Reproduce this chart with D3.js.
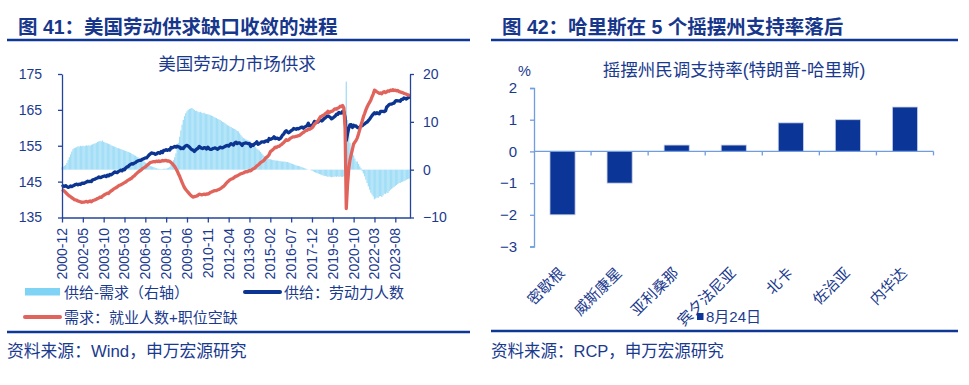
<!DOCTYPE html>
<html><head><meta charset="utf-8">
<script src="https://cdn.jsdelivr.net/npm/d3@7"></script>
<style>
body{margin:0;background:#fff;}
svg text{font-family:"Liberation Sans","Noto Sans CJK SC",sans-serif;}
</style></head><body>
<svg id="c" width="969" height="385"></svg>
<script>
// ---------- Data: Figure 41 (monthly, 2000-12 .. 2024-08) ----------
const firstMonth = new Date(2000, 11, 1);
const lastMonth = new Date(2024, 7, 1);
const xTickLabels = ["2000-12","2002-05","2003-10","2005-03","2006-08","2008-01","2009-06","2010-11","2012-04","2013-09","2015-02","2016-07","2017-12","2019-05","2020-10","2022-03","2023-08"];
const leftTicks = [135,145,155,165,175];
const rightTicks = [-10,0,10,20];

// 供给：劳动力人数 (百万, left axis)
const laborForce = [143.5,
143.8,143.7,143.9,143.6,143.4,143.5,143.8,143.6,143.8,144.0,144.2,144.3,
144.1,144.3,144.2,144.5,144.6,144.5,144.7,144.9,145.1,145.0,145.1,145.0,
145.5,145.6,145.7,145.9,146.0,146.3,146.1,146.2,146.4,146.5,146.6,146.4,
146.8,146.6,147.0,146.9,147.1,147.4,147.7,147.6,147.5,147.8,148.0,148.2,
148.0,148.4,148.3,148.8,149.1,149.2,149.6,149.8,150.0,149.9,150.2,150.3,
150.6,150.8,150.9,150.9,151.1,151.3,151.4,151.6,151.6,152.0,152.4,152.7,
153.0,152.9,152.9,152.6,152.7,153.0,153.1,152.9,153.4,153.1,153.7,153.7,
153.9,153.7,153.9,153.8,154.5,154.4,154.6,154.8,154.6,154.9,154.7,154.6,
154.2,154.4,154.2,154.7,155.0,155.1,154.9,154.6,154.2,153.9,153.8,153.4,
153.8,154.1,154.3,154.8,154.5,154.3,154.2,154.5,154.4,154.1,154.6,154.2,
154.0,154.0,154.2,154.3,154.4,154.2,154.0,154.3,154.6,154.5,154.4,154.6,
154.8,155.0,155.1,154.9,155.3,155.6,155.4,155.2,155.8,156.0,155.6,155.8,
155.8,155.5,155.1,155.6,155.7,155.8,155.7,155.6,155.6,154.8,155.3,155.1,
155.5,155.7,156.1,155.4,155.6,155.8,156.1,156.1,156.0,156.3,156.4,156.2,
157.0,156.8,156.9,157.1,157.5,157.0,157.1,157.1,156.8,157.0,157.4,158.0,
158.3,158.9,159.2,158.8,158.6,158.9,159.2,159.4,159.8,159.7,159.6,159.8,
159.7,159.9,160.1,160.2,159.9,160.2,160.4,160.6,161.3,160.6,160.6,160.6,
161.1,161.8,161.6,161.6,161.6,162.1,162.2,161.9,162.2,162.6,162.8,163.2,
163.3,163.1,162.9,162.5,162.7,163.0,163.3,163.8,163.7,164.3,164.1,164.1,
164.6,164.5,162.9,156.5,158.2,159.9,160.8,160.9,160.1,160.7,160.5,160.5,
160.1,160.0,160.2,160.5,160.6,160.9,161.1,161.4,161.6,162.0,162.4,162.9,
163.4,163.8,164.2,163.9,164.2,164.0,163.9,164.6,164.6,164.6,164.5,164.7,
165.8,166.1,166.5,166.6,166.6,166.8,166.9,167.4,167.6,167.5,167.5,167.4,
167.9,167.9,168.3,168.2,168.0,168.3,168.5,168.6];

// 需求：就业人数+职位空缺 (百万, left axis)
const demand = [142.8,
142.6,142.3,142.0,141.6,141.3,141.0,140.8,140.5,140.3,140.0,139.9,139.8,
139.6,139.5,139.4,139.2,139.3,139.3,139.4,139.5,139.3,139.5,139.6,139.4,
139.7,139.8,139.9,140.1,140.3,140.4,140.7,140.6,140.9,141.2,141.4,141.6,
141.8,141.7,142.1,142.4,142.6,142.9,143.1,143.3,143.5,143.8,144.0,144.1,
144.3,144.5,144.7,144.9,145.2,145.4,145.6,145.8,146.0,146.4,146.6,147.0,
147.3,147.6,147.9,148.1,148.4,148.7,148.9,149.1,149.4,149.7,150.0,150.3,
150.4,150.5,150.6,150.5,150.7,150.6,150.8,150.6,150.7,150.9,150.8,150.9,
150.9,150.7,150.8,150.6,150.3,150.0,149.6,149.2,148.6,148.0,147.2,146.5,
145.6,144.8,144.0,143.3,142.8,142.4,142.0,141.6,141.2,140.9,140.7,140.8,
140.9,141.0,141.2,141.5,141.4,141.3,141.4,141.5,141.4,141.6,141.5,141.7,
142.0,142.1,142.3,142.4,142.5,142.5,142.7,142.8,143.0,143.2,143.5,143.7,
144.1,144.5,144.9,145.2,145.5,145.7,145.8,146.0,146.3,146.5,146.6,146.8,
147.0,147.2,147.3,147.4,147.6,147.8,147.7,147.9,148.1,148.0,148.3,148.6,
148.7,149.0,149.4,149.6,149.9,150.3,150.5,150.7,151.0,151.5,151.8,152.1,
152.5,153.3,153.6,153.9,154.2,154.6,154.5,154.8,154.8,155.1,155.3,155.6,
155.9,156.3,156.7,156.5,156.6,157.0,157.2,157.4,157.5,157.5,157.6,157.7,
157.8,157.9,158.2,158.5,158.7,159.0,159.2,159.3,159.7,159.6,159.8,160.0,
160.4,161.0,161.3,161.6,162.0,162.6,163.1,163.2,163.5,163.6,164.0,164.2,
164.6,164.2,164.5,164.6,164.7,165.1,165.3,165.2,165.5,165.6,166.0,165.9,
166.2,165.5,160.5,137.5,144.0,148.5,151.0,152.5,154.0,155.5,156.0,156.5,
157.2,158.3,159.5,160.7,161.9,163.1,164.0,165.0,165.8,166.5,167.1,167.7,
168.6,169.4,170.5,170.3,170.0,169.8,169.6,169.7,169.5,169.9,170.1,169.8,
170.0,170.3,170.2,170.5,170.4,170.6,170.4,170.5,170.3,170.4,170.1,170.0,
169.9,169.8,169.6,169.5,169.4,169.2,169.1,168.9];

// 供给-需求 (右轴)
const gap = [0.5,
0.6,0.8,1.0,1.4,2.0,2.6,3.2,3.8,4.3,4.5,4.6,4.7,
4.9,4.8,5.0,4.9,5.0,4.9,5.0,5.1,5.0,5.1,5.0,5.2,
5.3,5.4,5.5,5.6,5.8,5.9,6.0,5.9,6.1,5.8,5.7,5.6,
5.5,5.4,5.3,5.1,5.0,4.9,4.8,4.7,4.5,4.5,4.4,4.3,
4.2,4.1,4.0,3.9,3.8,3.7,3.6,3.5,3.3,3.2,3.0,2.9,
2.7,2.6,2.4,2.2,2.0,1.8,1.7,1.5,1.3,1.1,0.9,0.8,
0.7,0.6,0.5,0.4,0.3,0.2,0.2,0.1,0.1,0.1,0.2,0.2,
0.2,0.3,0.4,0.6,1.0,1.5,2.0,2.6,3.4,4.5,5.6,6.9,
8.2,9.4,10.4,11.2,11.8,12.2,12.5,12.7,12.8,12.9,12.7,12.5,
12.3,12.3,12.1,12.0,12.1,11.9,11.8,11.9,11.7,11.6,11.6,11.5,
11.4,11.3,11.2,11.0,10.9,10.8,10.6,10.5,10.4,10.2,10.0,9.9,
9.7,9.5,9.3,9.2,9.0,8.9,8.7,8.6,8.5,8.3,8.1,8.0,
7.6,7.2,6.9,6.6,6.5,6.3,6.2,6.1,6.0,5.9,5.6,5.3,
5.0,4.7,4.4,4.2,4.0,3.7,3.4,3.1,2.8,2.6,2.4,2.3,
2.2,2.2,2.1,2.0,2.0,1.9,1.9,1.9,1.8,1.8,1.7,1.7,
1.7,1.7,1.6,1.6,1.5,1.4,1.3,1.2,1.1,1.0,0.9,0.8,
0.8,0.7,0.6,0.5,0.4,0.3,0.2,0.1,0.0,0.0,-0.1,-0.2,
-0.3,-0.5,-0.6,-0.7,-0.8,-0.9,-1.0,-1.1,-1.2,-1.3,-1.3,-1.4,
-1.5,-1.4,-1.5,-1.6,-1.5,-1.5,-1.4,-1.5,-1.4,-1.5,-1.4,-1.5,
-1.5,-1.4,0.5,18.4,10.4,7.5,5.6,4.5,3.8,3.0,2.3,1.7,
1.7,1.2,0.7,0.3,-0.3,-0.8,-1.4,-2.1,-2.8,-3.5,-4.2,-4.8,
-5.2,-5.6,-6.2,-6.0,-5.8,-5.9,-5.6,-5.5,-5.7,-5.4,-5.0,-5.1,
-4.8,-4.9,-4.5,-4.2,-4.0,-3.8,-3.6,-3.4,-3.2,-3.0,-2.8,-2.8,
-2.6,-2.5,-2.4,-2.3,-2.1,-2.0,-1.9,-1.8];

// ---------- Data: Figure 42 ----------
const states = ["密歇根","威斯康星","亚利桑那","宾夕法尼亚","北卡","佐治亚","内华达"];
const margin824 = [-2, -1, 0.2, 0.2, 0.9, 1.0, 1.4];
const rightYTicks = [-3,-2,-1,0,1,2];

// ---------- Drawing ----------
const svg = d3.select("#c");
const NAVY = "#1a3a8e", RULE = "#0f3795";
const BLUE = "#0c3591", RED = "#e0645b", LIGHT = "#a3def7";

svg.append("rect").attr("width",969).attr("height",385).attr("fill","#fff");

function title(x, txt){
  svg.append("text").attr("x",x).attr("y",34).attr("font-size",19.5).attr("font-weight","bold")
    .attr("fill","#17378c").text(txt);
}
title(18, "图 41：美国劳动供求缺口收敛的进程");
title(502, "图 42：哈里斯在 5 个摇摆州支持率落后");
function rule(x1,x2,y){
  svg.append("line").attr("x1",x1).attr("x2",x2).attr("y1",y).attr("y2",y)
    .attr("stroke",RULE).attr("stroke-width",2.6);
}
rule(7,470,40); rule(491,958,40);
rule(7,470,332); rule(491,958,331);
svg.append("text").attr("x",7).attr("y",357).attr("font-size",16.8).attr("fill",NAVY).text("资料来源：Wind，申万宏源研究");
svg.append("text").attr("x",491).attr("y",357).attr("font-size",16.5).attr("fill",NAVY).text("资料来源：RCP，申万宏源研究");

// ---- Left chart ----
const fmt = d3.timeFormat("%Y-%m");
const months = d3.timeMonth.range(firstMonth, d3.timeMonth.offset(lastMonth,1)).map(fmt);
const x = d3.scalePoint().domain(months).range([62, 410]);
const yL = d3.scaleLinear().domain([135,175]).range([217.5,74]);
const yR = d3.scaleLinear().domain([-10,20]).range([217.5,74]);
const gL = svg.append("g");

gL.append("text").attr("x",237).attr("y",70).attr("text-anchor","middle")
  .attr("font-size",17.5).attr("fill",NAVY).text("美国劳动力市场供求");

const bw = x.step()*1.05;
gL.append("g").selectAll("rect").data(gap).join("rect")
  .attr("x",(d,i)=>x(months[i]) - bw/2)
  .attr("width",bw)
  .attr("y",d=>Math.min(yR(d),yR(0)))
  .attr("height",d=>Math.abs(yR(d)-yR(0)))
  .attr("fill",LIGHT);

const line = arr => d3.line().x((d,i)=>x(months[i])).y(d=>yL(d))(arr);
gL.append("path").attr("d",line(laborForce)).attr("fill","none").attr("stroke",BLUE)
  .attr("stroke-width",3.3).attr("stroke-linejoin","round");
gL.append("path").attr("d",line(demand)).attr("fill","none").attr("stroke",RED)
  .attr("stroke-width",3.3).attr("stroke-linejoin","round");

const axL = gL.append("g").attr("transform","translate(62,0)")
  .call(d3.axisLeft(yL).tickValues(leftTicks).tickSize(4).tickSizeOuter(0).tickPadding(16));
const axR = gL.append("g").attr("transform","translate(410,0)")
  .call(d3.axisRight(yR).tickValues(rightTicks).tickSize(4).tickSizeOuter(0).tickPadding(9));
const axB = gL.append("g").attr("transform","translate(0,217.5)")
  .call(d3.axisBottom(x).tickValues(xTickLabels).tickSize(5).tickSizeOuter(0).tickFormat(""));
[axL,axR,axB].forEach(a=>{
  a.selectAll("path,line").attr("stroke","#22449c").attr("stroke-width",1.3);
  a.selectAll("text").attr("font-size",14).attr("fill",NAVY).attr("font-family","Liberation Sans");
});
gL.append("g").selectAll("text").data(xTickLabels).join("text")
  .attr("transform",d=>`translate(${x(d)},228) rotate(-90)`)
  .attr("text-anchor","end").attr("dominant-baseline","central")
  .attr("font-size",14).attr("fill",NAVY).text(d=>d);

// legend
gL.append("rect").attr("x",25).attr("y",288).attr("width",35).attr("height",7.5).attr("fill","#7fd3f5");
gL.append("text").attr("x",64).attr("y",298).attr("font-size",15).attr("fill",NAVY).text("供给-需求（右轴）");
gL.append("line").attr("x1",245).attr("x2",280).attr("y1",292).attr("y2",292)
  .attr("stroke",BLUE).attr("stroke-width",4).attr("stroke-linecap","round");
gL.append("text").attr("x",284).attr("y",298).attr("font-size",15).attr("fill",NAVY).text("供给：劳动力人数");
gL.append("line").attr("x1",25).attr("x2",60).attr("y1",317).attr("y2",317)
  .attr("stroke",RED).attr("stroke-width",4).attr("stroke-linecap","round");
gL.append("text").attr("x",64).attr("y",322.5).attr("font-size",15).attr("fill",NAVY).text("需求：就业人数+职位空缺");

// ---- Right chart ----
const gR = svg.append("g");
const xb = d3.scaleBand().domain(states).range([534, 933.5]).paddingInner(0).paddingOuter(0);
const yb = d3.scaleLinear().domain([-3,2]).range([246.5,88]);
gR.append("text").attr("x",518).attr("y",76).attr("font-size",14.5).attr("fill",NAVY).text("%");
gR.append("text").attr("x",734).attr("y",76).attr("text-anchor","middle")
  .attr("font-size",17.5).attr("fill",NAVY).text("摇摆州民调支持率(特朗普-哈里斯)");

const AX2 = "#6f9de0";
const ay = gR.append("g").attr("transform","translate(534,0)")
  .call(d3.axisLeft(yb).tickValues(rightYTicks).tickSize(4).tickPadding(13).tickFormat(d3.format("d")));
ay.selectAll("path,line").attr("stroke",AX2).attr("stroke-width",1.3);
ay.selectAll("text").attr("font-size",15).attr("fill",NAVY).attr("font-family","Liberation Sans");

const barW = xb.bandwidth()*0.44;
gR.append("g").selectAll("rect").data(margin824).join("rect")
  .attr("x",(d,i)=>xb(states[i]) + xb.bandwidth()/2 - barW/2)
  .attr("width",barW)
  .attr("y",d=>Math.min(yb(d),yb(0)))
  .attr("height",d=>Math.abs(yb(d)-yb(0)))
  .attr("fill","#0b3597").attr("stroke","#c5cfe6").attr("stroke-width",0.8);

// category axis at zero
gR.append("line").attr("x1",534).attr("x2",933.5).attr("y1",yb(0)).attr("y2",yb(0))
  .attr("stroke",AX2).attr("stroke-width",1.3);
gR.append("g").selectAll("line").data(states).join("line")
  .attr("x1",d=>xb(d)+xb.bandwidth()).attr("x2",d=>xb(d)+xb.bandwidth())
  .attr("y1",yb(0)).attr("y2",yb(0)+4).attr("stroke",AX2).attr("stroke-width",1.3);

gR.append("g").selectAll("text").data(states).join("text")
  .attr("transform",d=>`translate(${xb(d)+xb.bandwidth()/2+3},274) rotate(-45)`)
  .attr("text-anchor","end").attr("font-size",15).attr("fill",NAVY).text(d=>d);

// legend
gR.append("rect").attr("x",697).attr("y",313).attr("width",6.5).attr("height",7).attr("fill","#0b3597");
gR.append("text").attr("x",706).attr("y",321.5).attr("font-size",15).attr("fill",NAVY).text("8月24日");
</script>
</body></html>
